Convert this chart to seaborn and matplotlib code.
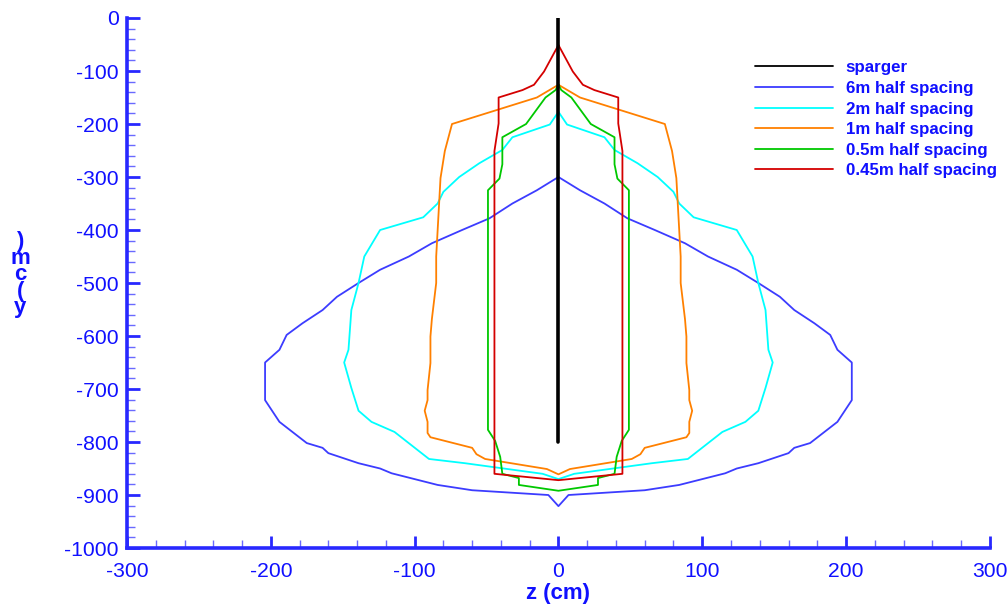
import numpy as np
import pandas as pd
import matplotlib
matplotlib.use("Agg")
import matplotlib.pyplot as plt
from matplotlib.ticker import MultipleLocator
import seaborn as sns

# Right-hand half of each bubble-plume contour (z >= 0), listed from top to bottom.
# The contours are symmetric about z = 0, so the left half is the mirror image.
z_6m = [0, 15, 32, 48, 67, 88, 104, 124, 139, 154, 164, 178, 189, 194, 204, 204,
        194, 175, 164, 160, 139, 124, 116, 84, 60, 7, 0]
y_6m = [-300, -325, -350, -378, -400, -425, -450, -475, -500, -526, -551, -576, -598, -626, -650, -721,
        -762, -802, -811, -821, -840, -850, -859, -881, -891, -900, -921]

z_2m = [0, 6, 32, 39, 55, 69, 80, 84, 94, 124, 135, 139, 144, 146, 149, 144,
        139, 130, 114, 90, 65, 11, 0]
y_2m = [-177, -201, -225, -249, -274, -300, -328, -350, -376, -400, -450, -500, -551, -626, -650, -698,
        -741, -762, -781, -832, -840, -860, -870]

z_1m = [0, 15, 74, 79, 82, 85, 85, 88, 89, 89, 91, 91, 93, 91, 91, 89,
        60, 57, 51, 8, 0]
y_1m = [-126, -150, -200, -251, -302, -450, -500, -568, -601, -651, -702, -721, -741, -762, -783, -791,
        -811, -823, -832, -851, -861]

z_05m = [0, 2, 9, 22.5, 39, 39, 41, 49, 49, 44, 40.5, 39, 27.5, 27.5, 0]
y_05m = [-126, -136, -150, -200, -225, -276, -303, -325, -777, -798, -828, -860, -868, -881, -892]

z_045m = [0, 10, 17, 25, 41.6, 41.6, 44.5, 44.5, 0]
y_045m = [-51, -101, -126, -136, -150, -199, -251, -860, -872]

# Sparger: vertical pipe along the centreline
z_sparger = [0, 0]
y_sparger = [0, -800]

labels = ["sparger", "6m half spacing", "2m half spacing", "1m half spacing",
          "0.5m half spacing", "0.45m half spacing"]
colors = ["#000000", "#3c3cff", "#00ffff", "#ff8000", "#00c800", "#d40000"]

x_ticks = [-300, -200, -100, 0, 100, 200, 300]
y_ticks = [0, -100, -200, -300, -400, -500, -600, -700, -800, -900, -1000]


def closed_contour(z_half, y_half):
    """Join the right half with its mirrored left half into one closed outline."""
    z_half = np.asarray(z_half, dtype=float)
    y_half = np.asarray(y_half, dtype=float)
    z = np.concatenate([z_half, -z_half[::-1]])
    y = np.concatenate([y_half, y_half[::-1]])
    return z, y


frames = [pd.DataFrame({"z": z_sparger, "y": y_sparger, "series": labels[0]})]
for lab, (zh, yh) in zip(labels[1:], [(z_6m, y_6m), (z_2m, y_2m), (z_1m, y_1m),
                                      (z_05m, y_05m), (z_045m, y_045m)]):
    z, y = closed_contour(zh, yh)
    frames.append(pd.DataFrame({"z": z, "y": y, "series": lab}))
df = pd.concat(frames, ignore_index=True)

sns.set_style("white")
plt.rcParams["font.family"] = ["Liberation Sans", "DejaVu Sans"]
plt.rcParams["axes.unicode_minus"] = False

axis_blue = "#2828ff"
text_blue = "#1010ff"

fig = plt.figure(figsize=(10.08, 6.04), dpi=100)
ax = fig.add_axes([0.126, 0.0927, 0.856, 0.8775])

for lab, col in zip(labels, colors):
    sub = df[df["series"] == lab]
    sns.lineplot(data=sub, x="z", y="y", sort=False, estimator=None, ax=ax,
                 color=col, linewidth=2.6 if lab == "sparger" else 1.3,
                 label=lab, zorder=3 if lab == "sparger" else 2)

ax.set_xlim(-300, 300)
ax.set_ylim(-1000, 0)
ax.set_xticks(x_ticks)
ax.set_yticks(y_ticks)
ax.xaxis.set_minor_locator(MultipleLocator(20))
ax.yaxis.set_minor_locator(MultipleLocator(20))

for side in ["top", "right"]:
    ax.spines[side].set_visible(False)
for side in ["left", "bottom"]:
    ax.spines[side].set_color(axis_blue)
    ax.spines[side].set_linewidth(2.6)

ax.tick_params(axis="both", which="major", direction="in", length=9, width=2.0,
               color=axis_blue, labelcolor=text_blue, labelsize=15.2)
ax.tick_params(axis="both", which="minor", direction="in", length=5.5, width=1.0,
               color="#6a6aff")
ax.tick_params(axis="x", which="both", bottom=True, pad=10)
ax.tick_params(axis="y", which="both", left=True, pad=6)

ax.set_xlabel("z (cm)", color=text_blue, fontsize=16, fontweight="bold",
              va="center")
ax.xaxis.set_label_coords(0.5, -0.086)
ax.set_ylabel("")
fig.text(0.020, 0.545, ")\nm\nc\n(\ny", color=text_blue, fontsize=16, fontweight="bold",
         ha="center", va="center", linespacing=0.72)

leg = ax.legend(loc="upper left", bbox_to_anchor=(0.749, 0.900),
                bbox_transform=fig.transFigure, frameon=False,
                handlelength=4.6, handletextpad=0.75, labelspacing=0.33,
                borderpad=0, borderaxespad=0, prop={"weight": "bold", "size": 12.2})
for text in leg.get_texts():
    text.set_color(text_blue)
for line in leg.get_lines():
    line.set_linewidth(1.3)

fig.savefig("out.png", dpi=100)
